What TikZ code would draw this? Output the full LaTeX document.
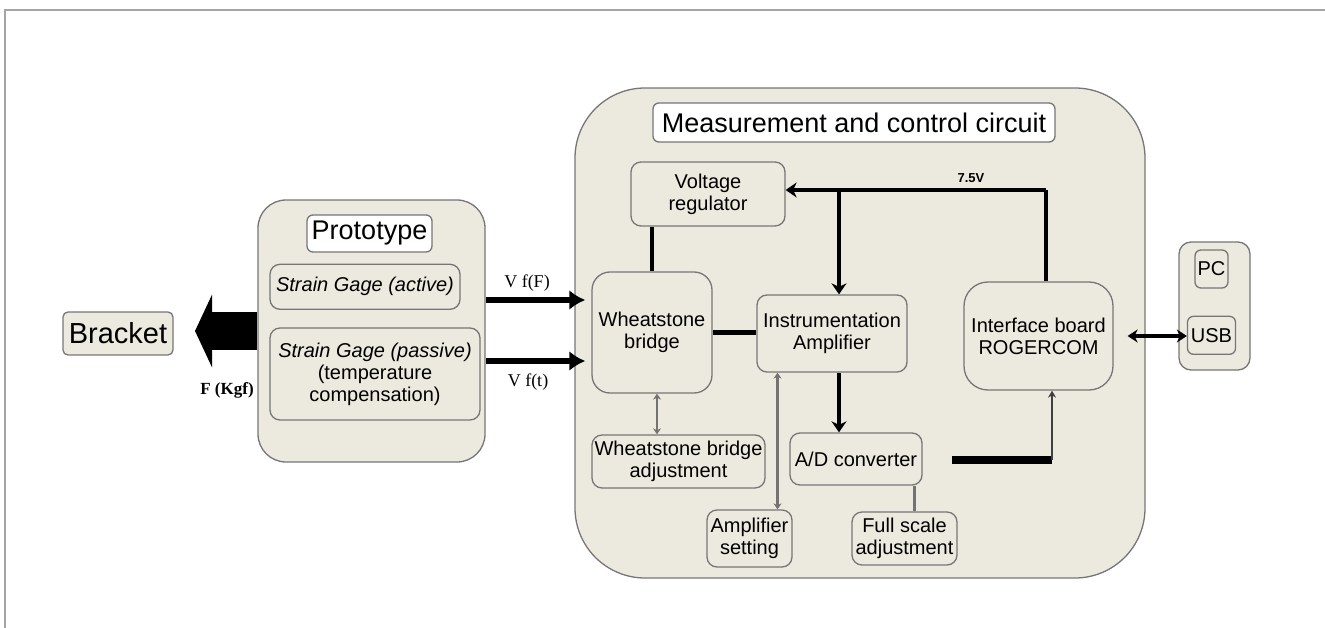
\documentclass[tikz,border=0pt]{standalone}
\usepackage{fontspec}
\setmainfont{Liberation Sans}
\newfontfamily\labelfont{Liberation Serif}
\usetikzlibrary{positioning,arrows.meta}
\definecolor{boxfill}{RGB}{236,233,222}
\definecolor{boxline}{RGB}{118,118,118}
\definecolor{framegray}{RGB}{165,165,165}

\begin{document}
\begin{tikzpicture}[x=1pt,y=-1pt,
  blk/.style={draw=boxline,fill=boxfill,line width=1.3pt,rounded corners=10pt,align=center,inner sep=0pt,font=\fontsize{20}{22}\selectfont},
  ttl/.style={blk,fill=white,rounded corners=6pt},
  bus/.style={line width=4.5pt},
  adj/.style={draw=black!55,line width=2.5pt},
  sig/.style={line width=6pt,-{Latex[length=16pt,width=20pt]}},
  tip/.style={-{Stealth[length=11pt,width=15pt]}},
  small tips/.style={{Stealth[length=6pt,width=8pt]}-{Stealth[length=6pt,width=8pt]}},
  siglbl/.style={font=\labelfont\fontsize{18}{20}\selectfont}]

\useasboundingbox (0,0) rectangle (1325,628);
\draw[framegray,line width=2pt] (5,628) -- (5,10) -- (1325,10);

% outer blocks
\node[blk,rounded corners=70pt,minimum width=570pt,minimum height=490pt] (meas) at (860,333) {};
\node[blk,rounded corners=28pt,minimum width=227pt,minimum height=262pt] (proto) at (371.5,331) {};
\node[blk,rounded corners=12pt,minimum width=71pt,minimum height=128pt] (host) at (1214.5,306) {};

% prototype
\node[blk,rounded corners=5pt,minimum width=110pt,minimum height=43pt,font=\fontsize{29}{32}\selectfont] (bracket) at (118,333.5) {Bracket};
\node[ttl,minimum width=125pt,minimum height=37pt,font=\fontsize{27}{30}\selectfont] (protitle) at (369.5,233.5) {Prototype};
\node[blk,minimum width=190pt,minimum height=45pt,below=11pt of protitle,xshift=-4.5pt] (sga) {\textit{Strain Gage (active)}};
\node[blk,minimum width=210pt,minimum height=92pt] (sgp) at (375,374) {\textit{Strain Gage (passive)}\\(temperature\\compensation)};

% measurement and control circuit
\node[ttl,minimum width=402pt,minimum height=39pt,font=\fontsize{27}{30}\selectfont] (meastitle) at (854,122.5) {Measurement and control circuit};
\node[blk,minimum width=154pt,minimum height=64pt] (vreg) at (708,194) {Voltage\\regulator};
\node[blk,rounded corners=18pt,minimum width=120pt,minimum height=121pt] (wheat) at (652,332.5) {Wheatstone\\bridge};
\node[blk,minimum width=150pt,minimum height=77pt] (instr) at (832,333.5) {Instrumentation\\Amplifier};
\node[blk,rounded corners=24pt,minimum width=149pt,minimum height=108pt] (iface) at (1038.5,336) {Interface board\\ROGERCOM};
\node[blk,minimum width=173pt,minimum height=53pt] (wadj) at (678.5,461.5) {Wheatstone bridge\\adjustment};
\node[blk,minimum width=132pt,minimum height=52pt] (ad) at (856,459) {A/D converter};
\node[blk,minimum width=85pt,minimum height=57pt] (amp) at (749.5,538.5) {Amplifier\\setting};
\node[blk,minimum width=105pt,minimum height=53pt] (full) at (904.5,538.5) {Full scale\\adjustment};

% host side
\node[blk,rounded corners=6pt,minimum width=33pt,minimum height=38pt] (pc) at (1211.5,269) {PC};
\node[blk,rounded corners=6pt,minimum width=48pt,minimum height=38pt,below=27pt of pc] (usb) {USB};

% force on the bracket
\coordinate (ftip) at (195,331);
\draw[line width=37pt,-{Triangle[length=17pt,width=72pt]}] (proto.west) -- (ftip);
\node[font=\labelfont\bfseries\fontsize{17}{19}\selectfont] (force) at (227,390) {F (Kgf)};

% gage signals
\coordinate (vfa) at ([yshift=31pt]proto.east);
\coordinate (vfb) at ([yshift=-30pt]proto.east);
\draw[sig,shorten >=6pt] (vfa) -- (vfa -| wheat.west);
\draw[sig,shorten >=6pt] (vfb) -- (vfb -| wheat.west);
\node[siglbl] (vflbla) at (527,283) {V f(F)};
\node[siglbl] (vflblb) at (528,382) {V f(t)};

% supply
\coordinate (br) at (839,190);
\coordinate (vtop) at (1046,190);
\draw[bus] (iface.north -| vtop) -- (vtop);
\draw[bus,tip] (vtop) -- (vtop -| vreg.east);
\draw[bus,tip] (br) -- (br |- instr.north);
\node[font=\bfseries\fontsize{13}{14}\selectfont] (volts) at (971,178) {7.5V};
\draw[bus] (vreg.south -| wheat.north) -- (wheat.north);

% signal chain
\draw[bus] (wheat.east) -- (wheat.east -| instr.west);
\draw[bus,tip] (br |- instr.south) -- (br |- ad.north);
\coordinate (adout) at (952,460);
\coordinate (adturn) at (1052,460);
\draw[line width=8pt] (adout) -- (adturn);
\draw[adj,draw=black!75,-{Stealth[length=7pt,width=8pt]}] (adturn) -- (adturn |- iface.south);
\draw[line width=3.5pt,{Stealth[length=10pt,width=13pt]}-{Stealth[length=10pt,width=13pt]},shorten <=14pt] (iface.east) -- (iface.east -| usb.west);

% adjustments
\draw[adj,small tips] ([xshift=5pt]wheat.south) -- ([xshift=5pt]wheat.south |- wadj.north);
\draw[adj,small tips] ([xshift=28pt]amp.north) -- ([xshift=28pt]amp.north |- instr.south);
\draw[adj] ([xshift=10pt]full.north) -- ([xshift=10pt]full.north |- ad.south);

\end{tikzpicture}
\end{document}
